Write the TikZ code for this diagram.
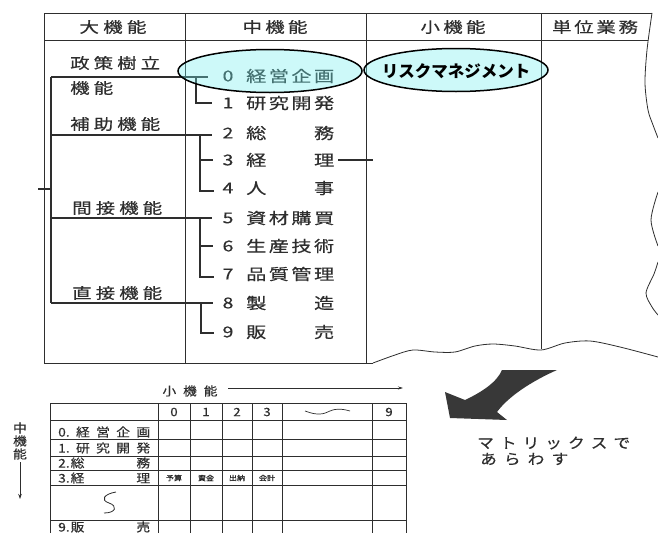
\documentclass[tikz,border=0pt]{standalone}
\usepackage{fontspec}
\newfontfamily\jp[FakeStretch=1.3,FakeBold=0.4]{Noto Sans CJK JP}
\newfontfamily\jps[FakeStretch=1.15,FakeBold=0.3]{Noto Sans CJK JP}
\newfontfamily\jpb{Noto Sans CJK JP}
\usetikzlibrary{arrows.meta,shapes.geometric}
\newcommand{\sprd}[2]{\makebox[#1][s]{#2}}
\definecolor{ecyan}{RGB}{112,240,240}
\begin{document}
\begin{tikzpicture}[x=1pt,y=-1pt,
  tbl/.style={draw=black!82, line width=0.8pt},
  brk/.style={draw=black!82, line width=1.4pt},
  hd/.style={inner sep=0pt, font=\jp\fontsize{15}{15}\selectfont, text=black!82},
  labw/.style={inner sep=0pt, anchor=west, font=\jp\fontsize{15}{15}\selectfont, text=black!82},
  itemw/.style={inner sep=0pt, anchor=west, font=\jp\fontsize{15.5}{15.5}\selectfont, text=black!82},
  smtxt/.style={inner sep=0pt, font=\jps\fontsize{12}{12}\selectfont, text=black!82},
  smw/.style={smtxt, anchor=west},
  digtxt/.style={inner sep=0pt, font=\jps\fontsize{11.5}{11.5}\selectfont, text=black!82},
  tinytxt/.style={inner sep=0pt, font=\jps\fontsize{7}{7}\selectfont, text=black!85},
  oval/.style={ellipse, draw=black, line width=1.5pt, fill=ecyan, fill opacity=0.35, draw opacity=1, minimum width=184pt, minimum height=43pt, inner sep=0pt},
]
\useasboundingbox (0,0) rectangle (658,533);
\fill[white] (0,0) rectangle (658,533);

% ---------- top table ----------
\draw[tbl] (44,13) -- (652,13);
\draw[tbl] (44,40) -- (648,40);
\draw[tbl] (44,13) -- (44,363) -- (373,363);
\draw[tbl] (185,13) -- (185,363);
\draw[tbl] (366,13) -- (366,363);
\draw[tbl] (541,13) -- (541,349);
\draw[tbl] plot[smooth] coordinates {(373,363) (395,355) (413,350) (435,352) (455,352) (475,346) (493,344) (515,346) (541,350) (565,343) (590,341) (620,347) (658,357)};
\draw[tbl] plot[smooth] coordinates {(652,13) (647,50) (645,83) (648,110) (653,125) (658,138)};
\draw[tbl] plot[smooth] coordinates {(658,192) (651,220) (658,246)};
\draw[tbl] plot[smooth] coordinates {(658,262) (654,274) (646,293) (652,307) (658,315)};

% headers
\node[hd] (h1) at (113,27) {\sprd{67pt}{大\hfill 機\hfill 能}};
\node[hd] (h2) at (275,27) {\sprd{65pt}{中\hfill 機\hfill 能}};
\node[hd] (h3) at (453,27) {\sprd{65pt}{小\hfill 機\hfill 能}};
\node[hd] (h4) at (595,27) {\sprd{86pt}{単\hfill 位\hfill 業\hfill 務}};

% left column labels
\node[labw] (l1) at (70,63) {\sprd{90pt}{政\hfill 策\hfill 樹\hfill 立}};
\node[labw] (l2) at (70,88) {\sprd{43pt}{機\hfill 能}};
\node[labw] (l3) at (70,124) {\sprd{90pt}{補\hfill 助\hfill 機\hfill 能}};
\node[labw] (l4) at (72,208) {\sprd{90pt}{間\hfill 接\hfill 機\hfill 能}};
\node[labw] (l5) at (72,293) {\sprd{90pt}{直\hfill 接\hfill 機\hfill 能}};

% left bracket
\coordinate (b0) at (51,77);
\coordinate (b1) at (51,135);
\coordinate (b2) at (51,218);
\coordinate (b3) at (51,303);
\draw[brk] (b0) -- (b3);
\draw[brk] (b0) -- (208,77);
\draw[brk] (b1) -- (212,135);
\draw[brk] (b2) -- (212,218);
\draw[brk] (b3) -- (213,303);
\draw[brk] (38,189) -- (51,189);

% middle brackets
\draw[brk] (196,77) -- (196,103) -- (212,103);
\draw[brk] (200,135) -- (200,191) -- (214,191);
\draw[brk] (200,160) -- (213,160);
\draw[brk] (200,218) -- (200,277) -- (214,277);
\draw[brk] (200,246) -- (213,246);
\draw[brk] (201,303) -- (201,333) -- (214,333);

% items
\node[hd] (n0) at (228,76) {0};
\node[itemw] (t0) at (246,76) {\sprd{88pt}{経\hfill 営\hfill 企\hfill 画}};
\node[hd] (n1) at (228,103) {1};
\node[itemw] (t1) at (246,103) {\sprd{88pt}{研\hfill 究\hfill 開\hfill 発}};
\node[hd] (n2) at (228,133) {2};
\node[itemw] (t2) at (246,133) {\sprd{88pt}{総\hfill 務}};
\node[hd] (n3) at (228,160) {3};
\node[itemw] (t3) at (246,160) {\sprd{88pt}{経\hfill 理}};
\node[hd] (n4) at (228,188) {4};
\node[itemw] (t4) at (246,188) {\sprd{88pt}{人\hfill 事}};
\node[hd] (n5) at (228,218) {5};
\node[itemw] (t5) at (246,218) {\sprd{88pt}{資\hfill 材\hfill 購\hfill 買}};
\node[hd] (n6) at (228,246) {6};
\node[itemw] (t6) at (246,246) {\sprd{88pt}{生\hfill 産\hfill 技\hfill 術}};
\node[hd] (n7) at (228,274) {7};
\node[itemw] (t7) at (246,274) {\sprd{88pt}{品\hfill 質\hfill 管\hfill 理}};
\node[hd] (n8) at (228,303) {8};
\node[itemw] (t8) at (246,303) {\sprd{88pt}{製\hfill 造}};
\node[hd] (n9) at (228,332) {9};
\node[itemw] (t9) at (246,332) {\sprd{88pt}{販\hfill 売}};

\draw[brk] (t3.east) ++(4,0) -- (373,160);

% ellipses
\node[oval] (e1) at (270,71) {};
\node[oval] (e2) at (456,70) {};
\node[inner sep=0pt, font=\jpb\bfseries\fontsize{16.5}{16.5}\selectfont] (rm) at (456,71) {リスクマネジメント};

% ---------- bottom matrix ----------
\node[smtxt] (sk) at (190,391) {\sprd{55pt}{小\hfill 機\hfill 能}};
\draw[black!82, line width=0.7pt, -{Stealth[length=5pt,width=3pt]}] (228,388) -- (403,388);

\node[smtxt] (c1) at (20,428) {中};
\node[smtxt] (c2) at (20,441) {機};
\node[smtxt] (c3) at (20,454) {能};
\draw[black!82, line width=0.8pt, -{Stealth[length=5pt,width=3.5pt]}] (20,462) -- (20,499);

\foreach \x in {50,158,190,222,252,282,372,406} \draw[tbl] (\x,403) -- (\x,533);
\foreach \y in {403,420,439,456,470,485,520} \draw[tbl] (50,\y) -- (406,\y);

\node[digtxt] (d0) at (174,412) {0};
\node[digtxt] (d1) at (206,412) {1};
\node[digtxt] (d2) at (237,412) {2};
\node[digtxt] (d3) at (267,412) {3};
\node[digtxt] (d9) at (389,412) {9};
\draw[black!82, line width=0.7pt] (305,411) .. controls (318,416) and (324,414) .. (330,411) .. controls (337,408) and (343,409) .. (350,411);

\node[smw] (r0) at (58,432) {\sprd{92pt}{0.\hfill 経\hfill 営\hfill 企\hfill 画}};
\node[smw] (r1) at (58,448) {\sprd{92pt}{1.\hfill 研\hfill 究\hfill 開\hfill 発}};
\node[smw] (r2) at (58,463) {\sprd{92pt}{2.\hspace{1pt}総\hfill 務}};
\node[smw] (r3) at (58,478) {\sprd{92pt}{3.\hspace{1pt}経\hfill 理}};
\node[smw] (r9) at (58,527) {\sprd{92pt}{9.\hspace{1pt}販\hfill 売}};
\draw[black!82, line width=0.8pt] (116,492) .. controls (104,494) and (100,500) .. (109,503) .. controls (118,506) and (116,513) .. (104,513);

\node[tinytxt] (s0) at (174,478) {予算};
\node[tinytxt] (s1) at (206,478) {資金};
\node[tinytxt] (s2) at (237,478) {出納};
\node[tinytxt] (s3) at (267,478) {会計};

% big arrow
\fill[black!78] (502,370) -- (557,370) .. controls (530,382) and (508,397) .. (497,412) -- (507,420) -- (450,418) -- (445,392) -- (465,400) .. controls (482,392) and (497,382) .. (502,370) -- cycle;

\node[inner sep=0pt, anchor=west, font=\jps\fontsize{14.5}{14.5}\selectfont, text=black!82] (m1) at (477,443) {\sprd{153pt}{マ\hfill ト\hfill リ\hfill ッ\hfill ク\hfill ス\hfill で}};
\node[inner sep=0pt, anchor=west, font=\jps\fontsize{14.5}{14.5}\selectfont, text=black!82] (m2) at (480,459) {\sprd{88pt}{あ\hfill ら\hfill わ\hfill す}};
\end{tikzpicture}
\end{document}
